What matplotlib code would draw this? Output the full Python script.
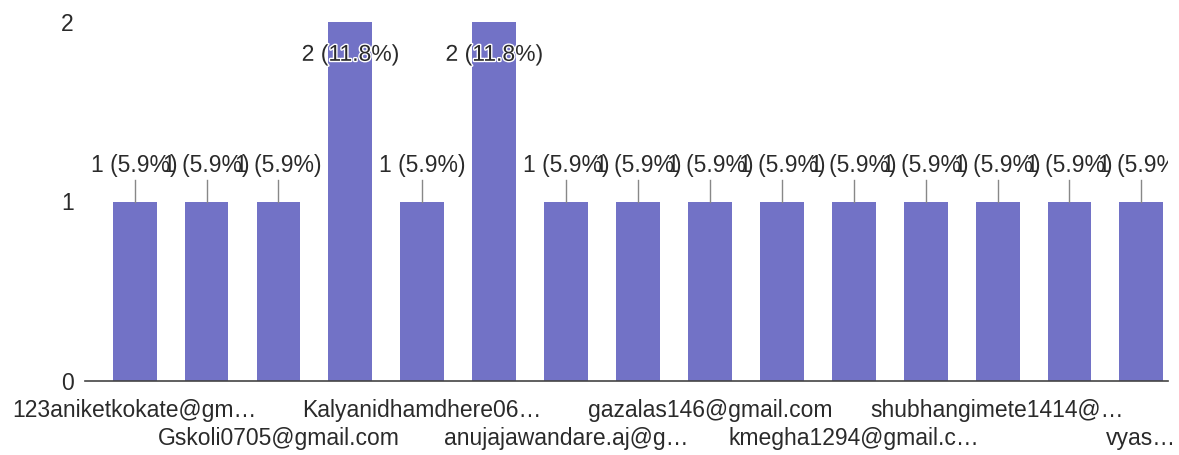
import numpy as np
import matplotlib
matplotlib.use('Agg')
import matplotlib.pyplot as plt
import matplotlib.patheffects as pe

plt.rcParams['font.family'] = ['Liberation Sans', 'DejaVu Sans']

labels = [
    '123aniketkokate@gm…', '', 'Gskoli0705@gmail.com', '',
    'Kalyanidhamdhere06…', '', 'anujajawandare.aj@g…', '',
    'gazalas146@gmail.com', '', 'kmegha1294@gmail.c…', '',
    'shubhangimete1414@…', '', 'vyas…',
]
counts = [1, 1, 1, 2, 1, 2, 1, 1, 1, 1, 1, 1, 1, 1, 1]
yticks = [0, 1, 2]

BAR = '#7272c6'
TXT = '#2a2a2a'
FS = 16.5

total = sum(counts)
x = np.arange(len(counts))

fig = plt.figure(figsize=(11.79, 4.55), dpi=100)
ax = fig.add_axes([85 / 1179, 1 - 381 / 455, (1168 - 85) / 1179, (381 - 22) / 455])

ax.bar(x, counts, width=0.61, color=BAR, zorder=2)
ax.set_xlim(-0.69, 14.37)
ax.set_ylim(0, 2)

# value labels sit above each bar, or just inside the tallest ones;
# they are clipped at the plot edge
ymax = max(counts)
for xi, c in zip(x, counts):
    txt = '%d (%.1f%%)' % (c, 100.0 * c / total)
    if c < ymax:
        ax.plot([xi, xi], [c, c + 0.12], color='#888888', lw=1, zorder=3)
        ax.text(xi, c + 0.2, txt, ha='center', va='center', fontsize=FS,
                color=TXT, zorder=4, clip_on=True)
    else:
        t = ax.text(xi, c - 0.18, txt, ha='center', va='center', fontsize=FS,
                    color=TXT, zorder=4, clip_on=True)
        t.set_path_effects([pe.withStroke(linewidth=2, foreground='white')])

for s in ['top', 'right', 'left']:
    ax.spines[s].set_visible(False)
ax.spines['bottom'].set_color('#444444')
ax.spines['bottom'].set_linewidth(1.2)

ax.set_yticks(yticks)
ax.set_yticklabels([str(v) for v in yticks], fontsize=FS, color=TXT)
ax.tick_params(axis='y', length=0, pad=8)
ax.tick_params(axis='x', length=0)
ax.set_xticks([])

# category names alternate between two rows under the axis
for i, lab in enumerate(labels):
    if not lab:
        continue
    row = (i // 2) % 2
    ax.annotate(lab, xy=(i, 0), xycoords=('data', 'axes fraction'),
                xytext=(0, -21 - row * 20.5), textcoords='offset points',
                ha='center', va='center', fontsize=FS, color=TXT,
                annotation_clip=False)

fig.savefig('out.png', dpi=100, facecolor='white')
